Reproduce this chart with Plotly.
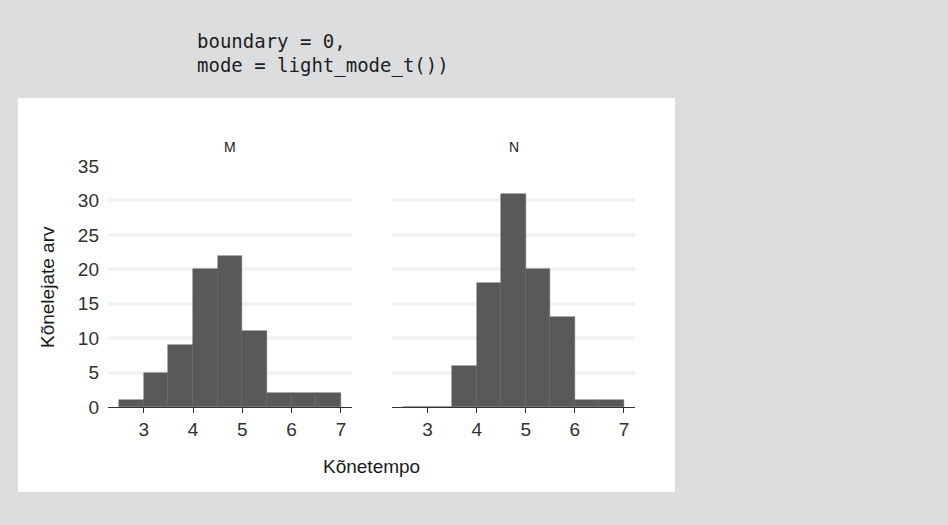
import plotly.graph_objects as go

W, H = 948, 525

# Data
bin_starts = [2.5, 3.0, 3.5, 4.0, 4.5, 5.0, 5.5, 6.0, 6.5]
bin_width = 0.5
counts_M = [1, 5, 9, 20, 22, 11, 2, 2, 2]
counts_N = [0, 0, 6, 18, 31, 20, 13, 1, 1]
panel_labels = ["M", "N"]
x_ticks = [3, 4, 5, 6, 7]
y_ticks = [0, 5, 10, 15, 20, 25, 30, 35]
code_lines = ["boundary = 0,", "mode = light_mode_t())"]
x_title = "Kõnetempo"
y_title = "Kõnelejate arv"

centers = [b + bin_width / 2 for b in bin_starts]

def px(x):
    return x / W

def py(y):
    return 1 - y / H

fig = go.Figure()
bar_style = dict(marker=dict(color="#595959", line=dict(color="#626262", width=0.5)),
                 width=bin_width, showlegend=False, hoverinfo="x+y")
fig.add_trace(go.Bar(x=centers, y=counts_M, xaxis="x", yaxis="y", **bar_style))
fig.add_trace(go.Bar(x=centers, y=counts_N, xaxis="x2", yaxis="y2", **bar_style))

xr = [2.275, 7.225]
common_x = dict(range=xr, tickvals=x_ticks, showgrid=False, zeroline=False,
                showline=True, linecolor="#333333", linewidth=1.3,
                ticks="outside", ticklen=5, tickwidth=1.2, tickcolor="#333333",
                tickfont=dict(family="Liberation Sans, Arial", size=19, color="#303030"),
                automargin=False, fixedrange=True)
common_y = dict(range=[0, 35], tickvals=y_ticks, showgrid=True, gridcolor="#f2f3f4",
                gridwidth=4, zeroline=False, showline=False, ticks="",
                tickfont=dict(family="Liberation Sans, Arial", size=19, color="#303030"),
                ticklabelstandoff=8, automargin=False, fixedrange=True)

fig.update_layout(
    template="none",
    width=W, height=H,
    autosize=False,
    margin=dict(l=0, r=0, t=0, b=0, pad=0, autoexpand=False),
    paper_bgcolor="#dcdddf",
    plot_bgcolor="rgba(0,0,0,0)",
    bargap=0,
    xaxis=dict(domain=[px(108), px(352)], anchor="y", **common_x),
    xaxis2=dict(domain=[px(392), px(635)], anchor="y2", **common_x),
    yaxis=dict(domain=[py(407), py(166)], anchor="x", **common_y),
    yaxis2=dict(domain=[py(407), py(166)], anchor="x2", matches="y",
                **{**common_y, "showticklabels": False}),
    shapes=[dict(type="rect", xref="paper", yref="paper",
                 x0=px(18), x1=px(675), y0=py(492), y1=py(98),
                 fillcolor="white", line=dict(width=0), layer="below")],
)

anns = []
for i, line in enumerate(code_lines):
    anns.append(dict(text=line, xref="paper", yref="paper", x=px(195), y=py(41 + 25 * i),
                     xanchor="left", yanchor="middle", showarrow=False,
                     font=dict(family="DejaVu Sans Mono, monospace", size=19, color="#1e1e1e")))
for lab, cx in zip(panel_labels, [230, 513.5]):
    anns.append(dict(text=lab, xref="paper", yref="paper", x=px(cx), y=py(147),
                     xanchor="center", yanchor="middle", showarrow=False,
                     font=dict(family="Liberation Sans, Arial", size=14, color="#1a1a1a")))
anns.append(dict(text=x_title, xref="paper", yref="paper", x=px(371.5), y=py(466),
                 xanchor="center", yanchor="middle", showarrow=False,
                 font=dict(family="Liberation Sans, Arial", size=19, color="#1a1a1a")))
anns.append(dict(text=y_title, xref="paper", yref="paper", x=px(47), y=py(287),
                 xanchor="center", yanchor="middle", showarrow=False, textangle=-90,
                 font=dict(family="Liberation Sans, Arial", size=19, color="#1a1a1a")))
fig.update_layout(annotations=anns)

fig.write_html("out.html")
